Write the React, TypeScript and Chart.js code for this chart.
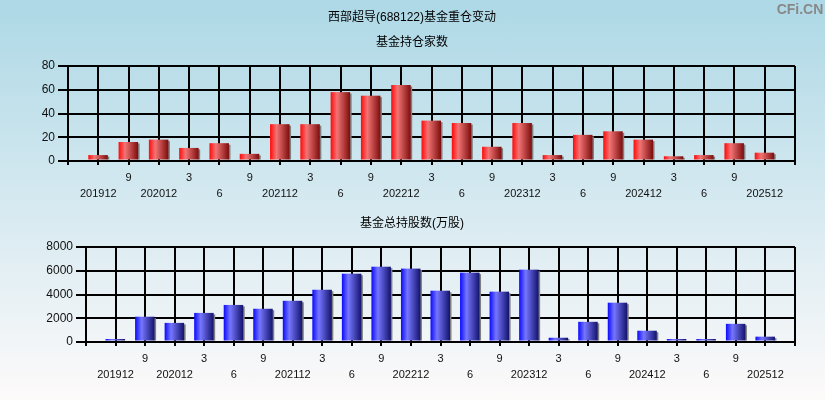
import React, { useEffect, useRef } from 'react';
import { Chart, registerables } from 'chart.js';

Chart.register(...registerables);

// ---------------- data ----------------
const quarters = [
  '201912', '202009', '202012', '202103', '202106', '202109', '202112', '202203',
  '202206', '202209', '202212', '202303', '202306', '202309', '202312', '202403',
  '202406', '202409', '202412', '202503', '202506', '202509', '202512',
];
const tickLabels = [
  '201912', '9', '202012', '3', '6', '9', '202112', '3', '6', '9', '202212', '3',
  '6', '9', '202312', '3', '6', '9', '202412', '3', '6', '9', '202512',
];
const fundCounts = [5, 16, 18, 11, 15, 6, 31, 31, 58, 55, 64, 34, 32, 12, 32, 5, 22, 25, 18, 4, 5, 15, 7];
const sharesHeld = [
  100, 2130, 1610, 2450, 3120, 2800, 3470, 4400, 5750, 6340, 6180, 4320, 5840, 4240, 6090,
  360, 1700, 3310, 950, 200, 100, 1530, 450,
];
const countAxis = { max: 80, step: 20 };
const sharesAxis = { max: 8000, step: 2000 };

const mainTitle = '西部超导(688122)基金重仓变动';
const countTitle = '基金持仓家数';
const sharesTitle = '基金总持股数(万股)';
const watermark = 'CFi.CN';

const RED = ['#ff0a0a', '#f27474', '#7c0c0c'];
const BLUE = ['#0a0aff', '#7676ff', '#12126c'];

type Txt = { text: string; x: number; y: number; font: string; color: string };

function makeChart(
  canvas: HTMLCanvasElement,
  values: number[],
  axis: { max: number; step: number },
  layout: { yWidth: number; top: number; right: number; xHeight: number },
  colors: string[],
  texts: Txt[],
) {
  const labels = ['', ...quarters, ''];
  const data: (number | null)[] = [null, ...values, null];

  const barPainter = {
    id: 'barPainter',
    afterDatasetsDraw(chart: any) {
      const ctx = chart.ctx;
      const meta = chart.getDatasetMeta(0);
      meta.data.forEach((el: any, i: number) => {
        if (data[i] == null) return;
        const { x, y, base } = el.getProps(['x', 'y', 'base'], true);
        const w = 19.5;
        const left = x - 10;
        const h = Math.max(1.5, base - y - 0.5);
        const top = base - 0.5 - h;
        ctx.save();
        ctx.fillStyle = '#7f7f7f';
        if (h > 2) ctx.fillRect(left + w - 0.5, top + 1.5, 2, h - 1.5);
        const g = ctx.createLinearGradient(left, 0, left + w, 0);
        g.addColorStop(0, colors[0]);
        g.addColorStop(0.33, colors[1]);
        g.addColorStop(1, colors[2]);
        ctx.fillStyle = g;
        ctx.fillRect(left, top, w, h);
        ctx.restore();
      });
    },
  };

  const textPainter = {
    id: 'textPainter',
    afterDraw(chart: any) {
      const ctx = chart.ctx;
      ctx.save();
      ctx.textAlign = 'center';
      ctx.textBaseline = 'middle';
      texts.forEach((t) => {
        ctx.font = t.font;
        ctx.fillStyle = t.color;
        ctx.fillText(t.text, t.x, t.y);
      });
      ctx.restore();
    },
  };

  return new Chart(canvas, {
    type: 'bar',
    data: {
      labels,
      datasets: [
        {
          data,
          backgroundColor: 'rgba(0,0,0,0)',
          borderWidth: 0,
          barThickness: 20,
        },
      ],
    },
    options: {
      responsive: false,
      animation: false,
      devicePixelRatio: 1,
      layout: { padding: { left: 0, right: layout.right, top: layout.top, bottom: 0 } },
      plugins: {
        legend: { display: false },
        title: { display: false },
        tooltip: { enabled: false },
      },
      scales: {
        x: {
          type: 'category',
          offset: false,
          grid: {
            offset: false,
            color: '#000',
            lineWidth: 2,
            tickLength: 4,
            tickColor: '#000',
          },
          border: { display: true, color: '#000', width: 2 },
          ticks: {
            autoSkip: false,
            maxRotation: 0,
            minRotation: 0,
            padding: 5,
            color: '#111',
            font: { family: 'Arial', size: 11, lineHeight: '16px' },
            callback: (_v: any, idx: number) => {
              if (idx === 0 || idx === labels.length - 1) return '';
              const i = idx - 1;
              const t = tickLabels[i];
              return i % 2 === 0 ? ['', t] : [t];
            },
          },
          afterFit: (scale: any) => {
            scale.height = layout.xHeight;
          },
        },
        y: {
          min: 0,
          max: axis.max,
          grid: { color: '#000', lineWidth: 2, tickLength: 10, tickColor: '#000' },
          border: { display: true, color: '#000', width: 2 },
          ticks: {
            stepSize: axis.step,
            padding: 3,
            color: '#111',
            font: { family: 'Arial', size: 12 },
            callback: (v: any) => String(v),
          },
          afterFit: (scale: any) => {
            scale.width = layout.yWidth;
          },
        },
      },
    },
    plugins: [barPainter, textPainter],
  } as any);
}

export default function App() {
  const topRef = useRef<HTMLCanvasElement>(null);
  const botRef = useRef<HTMLCanvasElement>(null);

  useEffect(() => {
    const cjk = '12px Arial, "Noto Sans CJK SC", sans-serif';
    const c1 = makeChart(
      topRef.current!,
      fundCounts,
      countAxis,
      { yWidth: 68, top: 66, right: 30, xHeight: 39 },
      RED,
      [
        { text: mainTitle, x: 412, y: 18, font: cjk, color: '#000' },
        { text: countTitle, x: 412, y: 43, font: cjk, color: '#000' },
        { text: watermark, x: 800, y: 10, font: 'bold 14px Arial, sans-serif', color: '#888' },
      ],
    );
    const c2 = makeChart(
      botRef.current!,
      sharesHeld,
      sharesAxis,
      { yWidth: 86, top: 47, right: 30, xHeight: 58 },
      BLUE,
      [{ text: sharesTitle, x: 412, y: 24, font: cjk, color: '#000' }],
    );
    return () => {
      c1.destroy();
      c2.destroy();
    };
  }, []);

  return (
    <div
      style={{
        position: 'absolute',
        left: 0,
        top: 0,
        width: 825,
        height: 400,
        overflow: 'hidden',
        background: 'linear-gradient(to bottom, #add8e6 0%, #fdfafa 100%)',
      }}
    >
      <canvas ref={topRef} width={825} height={200} style={{ display: 'block', width: 825, height: 200 }} />
      <canvas ref={botRef} width={825} height={200} style={{ display: 'block', width: 825, height: 200 }} />
    </div>
  );
}
